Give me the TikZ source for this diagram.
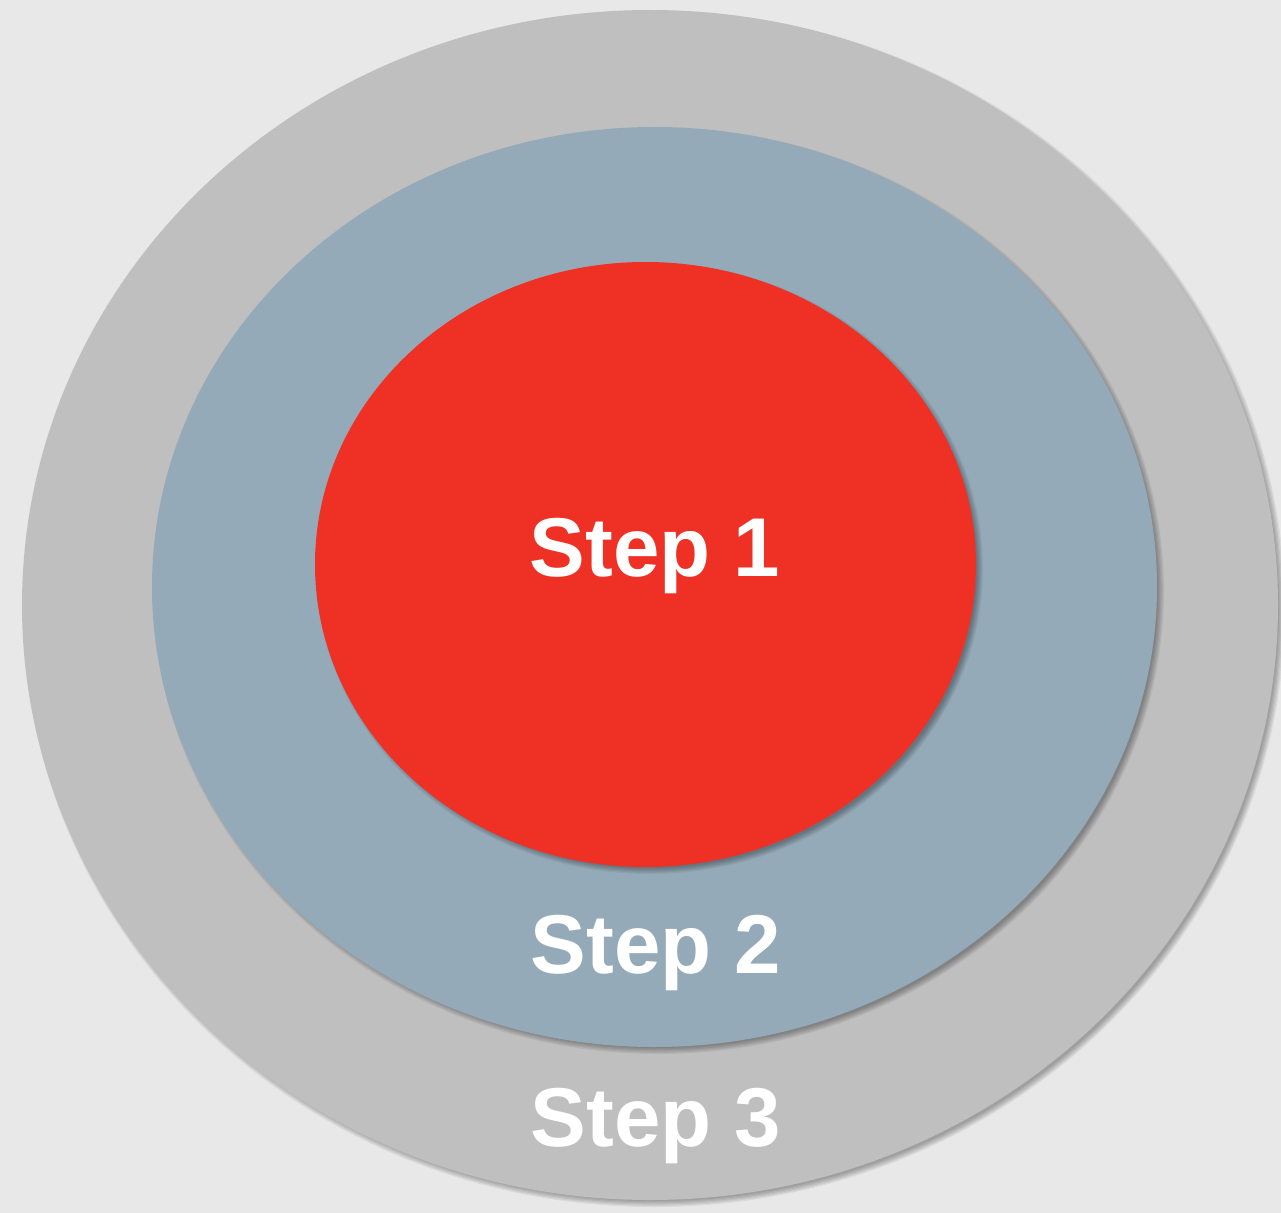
\documentclass[tikz,border=0pt]{standalone}
\usepackage{fontspec}
\setmainfont{Liberation Sans}
\usetikzlibrary{calc}

\definecolor{bgGray}{HTML}{E8E8E8}
\definecolor{ringGray}{HTML}{BFBFBF}
\definecolor{ringBlue}{HTML}{95AAB8}
\definecolor{coreRed}{HTML}{EE3124}

\tikzset{
  steplabel/.style={text=white, font=\fontsize{47.5}{57}\selectfont\bfseries, inner sep=0pt},
}

\begin{document}
\begin{tikzpicture}[x=0.02cm, y=-0.02cm]
		\fill[bgGray] (0,0) rectangle (1281,1213);
		\useasboundingbox (0,0) rectangle (1281,1213);

		% soft shadows, then the three rings
		\foreach \cx/\cy/\rx/\ry/\col in {650/605/628/595/ringGray, 654.5/587/502.5/460/ringBlue, 645.5/564.5/330.5/302.5/coreRed}{%
		  \foreach \k in {0,...,5}{%
			\fill[black, opacity=0.06] (\cx+4,\cy+4) ellipse ({\rx+1.2*\k-3} and {\ry+1.2*\k-3});
		  }
		  \fill[\col] (\cx,\cy) ellipse ({\rx} and {\ry});
		}

		\node[steplabel] (stepOne)   at (655,556)  {Step 1};
		\node[steplabel] (stepTwo)   at (656,953)  {Step 2};
		\node[steplabel] (stepThree) at (656,1126) {Step 3};
	  \end{tikzpicture}
\end{document}
